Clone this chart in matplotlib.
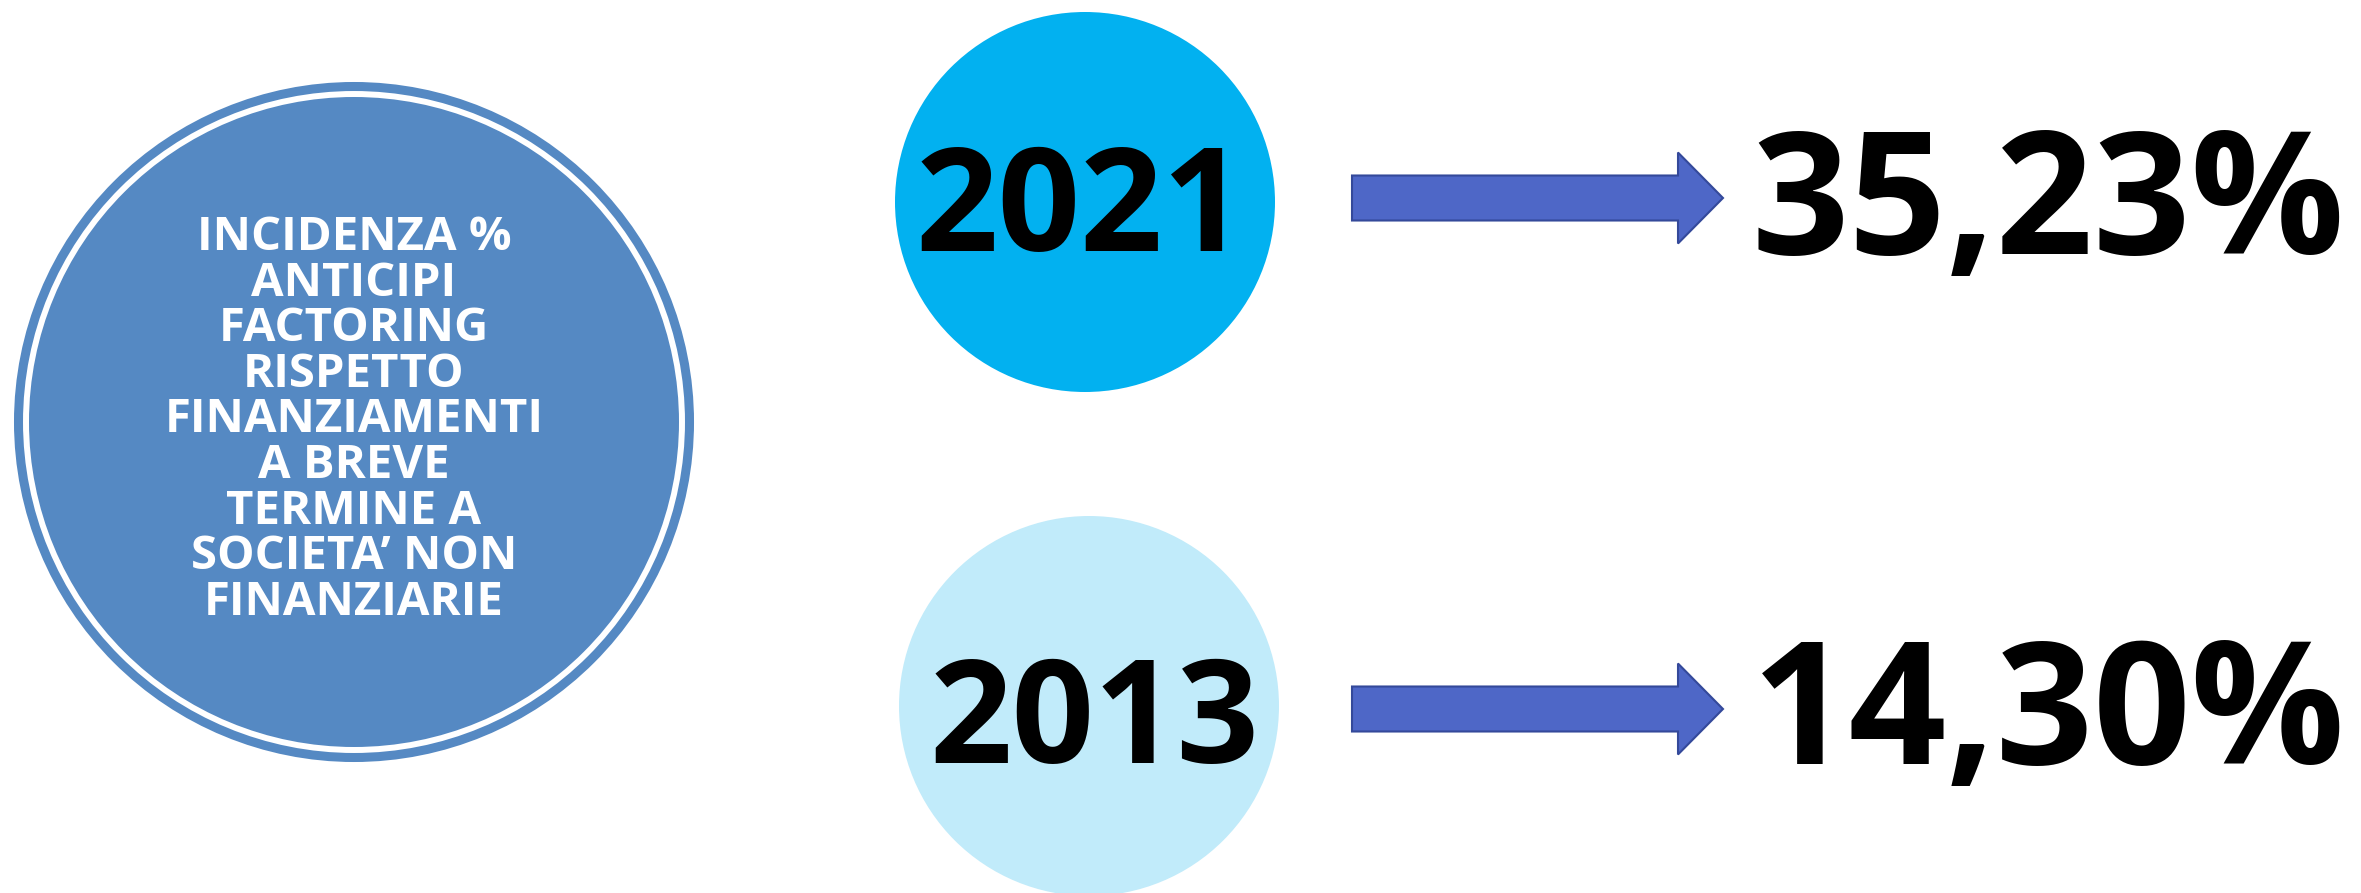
"""
Infografica: incidenza % anticipi factoring su finanziamenti a breve
termine a societa' non finanziarie, 2021 vs 2013.
"""
import matplotlib
matplotlib.use("Agg")
import matplotlib.pyplot as plt
from matplotlib.patches import Circle, FancyArrow

W, H = 2361, 893
FONT = "Open Sans"

# ── dati ────────────────────────────────────────────────
TITLE_LINES = ["INCIDENZA %", "ANTICIPI", "FACTORING", "RISPETTO",
               "FINANZIAMENTI", "A BREVE", "TERMINE A",
               "SOCIETA\u2019 NON", "FINANZIARIE"]
YEARS = ["2021", "2013"]
SHARES = [35.23, 14.30]          # % anticipi factoring

YEAR_COLORS = ["#02B1F0", "#C1EBFA"]
MAIN_BLUE = "#5589C3"
ARROW_FILL = "#4E67C7"
ARROW_EDGE = "#34499A"


def fmt_it(v):
    return f"{v:.2f}".replace(".", ",") + "%"


fig = plt.figure(figsize=(W / 100, H / 100), dpi=100)
ax = fig.add_axes([0, 0, 1, 1])
ax.set_xlim(0, W)
ax.set_ylim(H, 0)
ax.axis("off")

# cerchio principale con anello
cx, cy = 354, 422
ax.add_patch(Circle((cx, cy), 325, facecolor=MAIN_BLUE, edgecolor="none"))
ax.add_patch(Circle((cx, cy), 335.5, fill=False, edgecolor=MAIN_BLUE, lw=6.5))
ax.text(cx, 420, "\n".join(TITLE_LINES), ha="center", va="center",
        multialignment="center", color="white", fontsize=34,
        fontweight="bold", family=FONT, linespacing=0.96)

# righe anno -> freccia -> valore
rows = [
    dict(c=(1085, 202), tx=1080, base=251, ay=198, pbase=254),
    dict(c=(1089, 706), tx=1095, base=763, ay=709, pbase=764),
]
for year, share, col, r in zip(YEARS, SHARES, YEAR_COLORS, rows):
    ax.add_patch(Circle(r["c"], 190, facecolor=col, edgecolor="none"))
    ax.text(r["tx"], r["base"], year, ha="center", va="baseline",
            fontsize=104, fontweight="bold", family=FONT, color="black")
    ax.add_patch(FancyArrow(1352, r["ay"], 371, 0, width=45, head_width=91,
                            head_length=45, length_includes_head=True,
                            facecolor=ARROW_FILL, edgecolor=ARROW_EDGE, lw=1.5))
    ax.text(1752, r["pbase"], fmt_it(share), ha="left", va="baseline",
            fontsize=123, fontweight="bold", family=FONT, color="black")

fig.savefig("out.png", dpi=100)
